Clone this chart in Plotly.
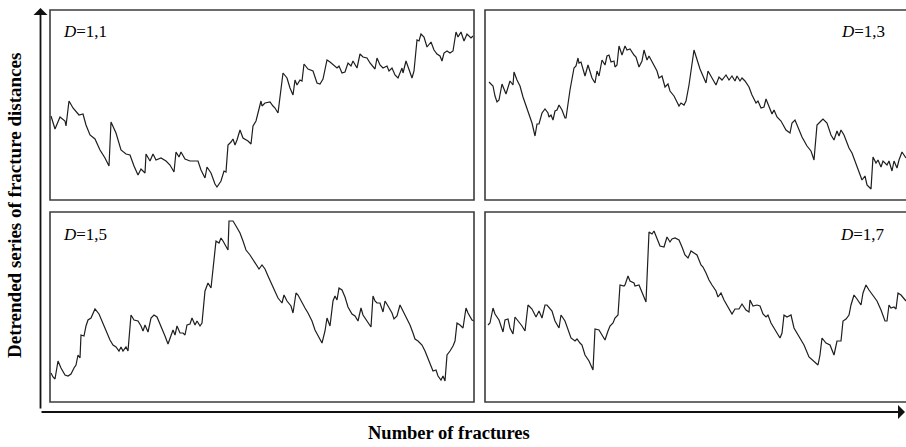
import plotly.graph_objects as go

# Detrended series of fracture distances, four fractal dimensions D.
# n: fracture number along the profile, v: detrended distance value.

n_d11 = [1, 5, 10, 15, 16, 19, 23, 26, 29, 33, 36, 40, 45, 50, 55, 59, 61, 66, 71, 76,
         80, 84, 88, 91, 95, 96, 100, 103, 106, 111, 116, 120, 124, 126, 129, 131, 135, 140, 145, 148,
         151, 155, 157, 161, 165, 167, 171, 174, 176, 178, 181, 183, 185, 187, 190, 193, 198, 201, 203, 206,
         211, 212, 215, 220, 223, 225, 228, 233, 237, 240, 243, 245, 247, 250, 252, 254, 258, 263, 267, 270,
         273, 277, 280, 283, 287, 289, 292, 295, 298, 301, 303, 307, 310, 313, 317, 320, 323, 325, 327, 330,
         333, 337, 339, 342, 345, 348, 352, 353, 356, 359, 362, 364, 367, 369, 371, 374, 377, 381, 384, 387,
         390, 392, 394, 397, 400, 403, 406, 408, 411, 414, 417, 421, 423]
v_d11 = [84, 71, 83, 79, 74, 99, 92, 88, 85, 86, 75, 65, 61, 50, 42, 34, 78, 67, 50, 46,
         45, 34, 25, 31, 27, 46, 39, 46, 40, 42, 39, 35, 28, 48, 43, 48, 41, 39, 39, 39,
         30, 22, 33, 27, 16, 13, 19, 29, 28, 55, 58, 61, 55, 60, 70, 62, 59, 56, 74, 79,
         99, 94, 97, 98, 94, 92, 87, 127, 122, 112, 105, 120, 115, 120, 119, 136, 131, 129, 117, 116,
         121, 140, 138, 135, 132, 134, 127, 128, 137, 134, 139, 132, 146, 143, 142, 137, 134, 131, 142, 135,
         132, 134, 129, 132, 125, 122, 132, 127, 139, 130, 122, 129, 160, 159, 166, 163, 153, 158, 150, 146,
         144, 139, 147, 149, 147, 149, 168, 163, 168, 159, 166, 162, 164]

n_d13 = [4, 8, 10, 12, 14, 17, 21, 25, 28, 29, 32, 35, 38, 42, 47, 50, 52, 54, 57, 60,
         63, 64, 66, 68, 70, 72, 74, 77, 80, 81, 85, 89, 91, 93, 94, 96, 100, 103, 107, 110,
         112, 114, 117, 120, 122, 124, 126, 129, 130, 132, 134, 137, 140, 142, 145, 149, 151, 154, 157, 159,
         162, 164, 168, 172, 174, 177, 180, 183, 185, 189, 191, 194, 196, 199, 201, 204, 209, 212, 215, 218,
         221, 223, 227, 231, 234, 237, 241, 244, 247, 250, 252, 255, 257, 260, 264, 267, 271, 273, 276, 279,
         281, 284, 287, 289, 292, 296, 301, 305, 307, 310, 315, 317, 322, 326, 329, 332, 336, 338, 342, 346,
         349, 352, 354, 356, 359, 364, 367, 372, 377, 380, 382, 386, 388, 391, 393, 396, 398, 402, 404, 407,
         409, 412, 414, 417, 421]
v_d13 = [118, 114, 104, 98, 100, 116, 106, 119, 115, 128, 120, 114, 103, 92, 77, 64, 76, 76, 87, 91,
         87, 83, 85, 80, 89, 90, 95, 90, 82, 82, 110, 132, 134, 142, 137, 138, 124, 135, 122, 117,
         129, 124, 140, 135, 144, 145, 138, 139, 133, 135, 154, 145, 154, 150, 151, 145, 143, 133, 139, 150,
         140, 144, 137, 129, 122, 124, 113, 116, 109, 104, 100, 94, 97, 95, 99, 115, 150, 140, 131, 124,
         117, 129, 122, 115, 123, 120, 125, 120, 124, 119, 124, 119, 122, 119, 113, 105, 97, 99, 92, 93,
         101, 94, 86, 90, 83, 79, 70, 67, 77, 80, 69, 63, 54, 49, 40, 75, 79, 81, 77, 65,
         60, 69, 64, 70, 65, 52, 47, 33, 20, 24, 15, 11, 43, 37, 40, 33, 39, 35, 39, 29,
         39, 32, 40, 48, 42]

n_d15 = [1, 3, 5, 8, 11, 15, 18, 21, 24, 26, 28, 30, 31, 34, 36, 38, 41, 45, 49, 52,
         56, 60, 63, 66, 69, 71, 73, 76, 78, 81, 84, 88, 91, 93, 95, 97, 98, 101, 104, 107,
         111, 115, 118, 121, 123, 125, 127, 130, 133, 135, 137, 140, 142, 145, 147, 150, 152, 155, 158, 161,
         163, 165, 166, 169, 171, 173, 178, 179, 183, 186, 190, 193, 196, 200, 203, 206, 209, 212, 215, 218,
         222, 225, 228, 232, 234, 237, 241, 243, 246, 248, 252, 255, 258, 262, 265, 268, 272, 275, 277, 280,
         283, 285, 287, 289, 292, 295, 298, 302, 305, 308, 311, 313, 317, 321, 323, 325, 327, 330, 333, 335,
         338, 342, 344, 347, 350, 353, 357, 360, 363, 365, 368, 372, 375, 378, 381, 383, 386, 388, 391, 393,
         395, 397, 400, 403, 405, 407, 410, 413, 416, 418, 422, 424]
v_d15 = [29, 25, 23, 41, 34, 27, 26, 28, 34, 37, 47, 44, 67, 66, 76, 82, 84, 93, 88, 81,
         71, 62, 57, 55, 51, 55, 51, 55, 51, 87, 82, 81, 76, 71, 77, 71, 70, 84, 87, 85,
         76, 66, 58, 67, 72, 67, 76, 69, 69, 67, 77, 78, 84, 77, 81, 76, 79, 111, 119, 114,
         134, 147, 161, 159, 164, 161, 152, 181, 181, 176, 169, 161, 152, 147, 142, 137, 133, 137, 133, 126,
         117, 111, 104, 99, 107, 101, 96, 89, 109, 107, 99, 94, 89, 81, 72, 67, 59, 71, 84, 76,
         101, 106, 102, 114, 112, 105, 95, 88, 86, 81, 94, 87, 81, 75, 106, 101, 99, 99, 90, 101,
         96, 89, 83, 86, 97, 91, 84, 77, 69, 63, 61, 57, 51, 44, 37, 31, 32, 26, 22, 26,
         21, 47, 51, 56, 61, 79, 77, 74, 94, 89, 82, 81]

n_d17 = [3, 5, 8, 10, 14, 18, 20, 23, 25, 28, 30, 34, 37, 40, 43, 47, 51, 54, 57, 60,
         62, 67, 70, 74, 76, 80, 83, 86, 90, 92, 95, 97, 100, 104, 108, 110, 114, 117, 120, 123,
         125, 128, 130, 133, 135, 139, 140, 143, 145, 149, 150, 154, 157, 161, 164, 167, 169, 172, 175, 179,
         182, 185, 187, 190, 194, 197, 200, 203, 206, 209, 212, 216, 218, 221, 224, 227, 231, 233, 236, 239,
         242, 245, 247, 250, 254, 257, 261, 264, 265, 268, 272, 275, 278, 281, 283, 286, 291, 295, 297, 299,
         302, 306, 309, 314, 319, 324, 329, 333, 335, 337, 341, 345, 349, 352, 356, 358, 361, 364, 366, 369,
         372, 376, 378, 381, 384, 387, 392, 396, 400, 402, 404, 406, 409, 411, 413, 416, 419, 421]
v_d17 = [77, 79, 94, 88, 82, 70, 82, 83, 74, 68, 85, 80, 76, 71, 97, 93, 85, 91, 84, 97,
         97, 91, 81, 74, 87, 81, 72, 64, 61, 63, 59, 57, 47, 41, 32, 73, 72, 67, 62, 71,
         76, 79, 84, 87, 117, 116, 117, 126, 121, 119, 116, 117, 109, 100, 170, 168, 171, 164, 156, 155,
         165, 160, 163, 164, 162, 155, 147, 144, 151, 149, 147, 137, 135, 129, 122, 117, 111, 105, 109, 102,
         97, 92, 88, 93, 93, 98, 92, 90, 102, 96, 97, 96, 88, 85, 87, 79, 70, 64, 69, 87,
         85, 87, 74, 66, 57, 45, 41, 37, 47, 64, 59, 57, 47, 61, 61, 81, 83, 87, 97, 107,
         103, 97, 109, 117, 112, 108, 101, 92, 81, 81, 97, 94, 95, 93, 109, 107, 104, 101]

panel_labels = ["1,1", "1,3", "1,5", "1,7"]
y_title = "Detrended series of fracture distances"
x_title = "Number of fractures"

W, H = 906, 447
SERIF = "Times New Roman, Liberation Serif, serif"
LINE = "#1e1e1e"
FRAME = "#3c3c3c"


def px(x):
    return x / W


def py(y):
    return (H - y) / H


# panel frames in pixels: (left, top, right, bottom, x-range)
panels = [
    (50, 10, 474, 200, 424),
    (485, 10, 906, 200, 421),
    (50, 212, 474, 402, 424),
    (485, 212, 906, 402, 421),
]
series = [(n_d11, v_d11), (n_d13, v_d13), (n_d15, v_d15), (n_d17, v_d17)]

fig = go.Figure()
layout = {}
shapes = []
annotations = []

for i, ((l, t, r, b, xr), (n, v)) in enumerate(zip(panels, series)):
    k = "" if i == 0 else str(i + 1)
    fig.add_trace(go.Scatter(x=n, y=v, mode="lines", xaxis="x" + k, yaxis="y" + k,
                             line=dict(color=LINE, width=1.2), showlegend=False,
                             hoverinfo="skip"))
    common = dict(showgrid=False, zeroline=False, showticklabels=False,
                  ticks="", showline=False, fixedrange=True)
    layout["xaxis" + k] = dict(domain=[px(l), px(r)], range=[0, xr],
                               anchor="y" + k, **common)
    layout["yaxis" + k] = dict(domain=[py(b), py(t)], range=[0, 190],
                               anchor="x" + k, **common)
    # frame; the right-hand panels run off the page edge
    x1 = px(r) if r < W else 1.02
    shapes.append(dict(type="rect", xref="paper", yref="paper",
                       x0=px(l), x1=x1, y0=py(b), y1=py(t),
                       line=dict(color=FRAME, width=1.6), fillcolor="rgba(0,0,0,0)"))
    label = "<i>D</i>=" + panel_labels[i]
    if i % 2 == 0:
        annotations.append(dict(x=px(l + 11), y=py(t + 22), xref="paper", yref="paper",
                                text=label, showarrow=False, xanchor="left",
                                yanchor="middle", font=dict(family=SERIF, size=17,
                                                            color="black")))
    else:
        annotations.append(dict(x=px(887), y=py(t + 22), xref="paper", yref="paper",
                                text=label, showarrow=False, xanchor="right",
                                yanchor="middle", font=dict(family=SERIF, size=17,
                                                            color="black")))

# outer axis arrows
annotations.append(dict(x=px(40.5), y=py(8), xref="paper", yref="paper", text="",
                        showarrow=True, ax=0, ay=402, axref="pixel", ayref="pixel",
                        arrowhead=1, arrowsize=1.3, arrowwidth=1.8, arrowcolor="#111"))
annotations.append(dict(x=px(906), y=py(412), xref="paper", yref="paper", text="",
                        showarrow=True, ax=-866, ay=0, axref="pixel", ayref="pixel",
                        arrowhead=1, arrowsize=1.3, arrowwidth=1.8, arrowcolor="#111"))

annotations.append(dict(x=px(15), y=py(206), xref="paper", yref="paper",
                        text="<b>" + y_title + "</b>", textangle=-90, showarrow=False,
                        xanchor="center", yanchor="middle",
                        font=dict(family=SERIF, size=19, color="black")))
annotations.append(dict(x=px(449), y=py(433), xref="paper", yref="paper",
                        text="<b>" + x_title + "</b>", showarrow=False,
                        xanchor="center", yanchor="middle",
                        font=dict(family=SERIF, size=18.5, color="black")))

fig.update_layout(width=W, height=H, margin=dict(l=0, r=0, t=0, b=0),
                  paper_bgcolor="white", plot_bgcolor="white",
                  shapes=shapes, annotations=annotations, **layout)

fig.write_html("out.html", config={"displayModeBar": False})
